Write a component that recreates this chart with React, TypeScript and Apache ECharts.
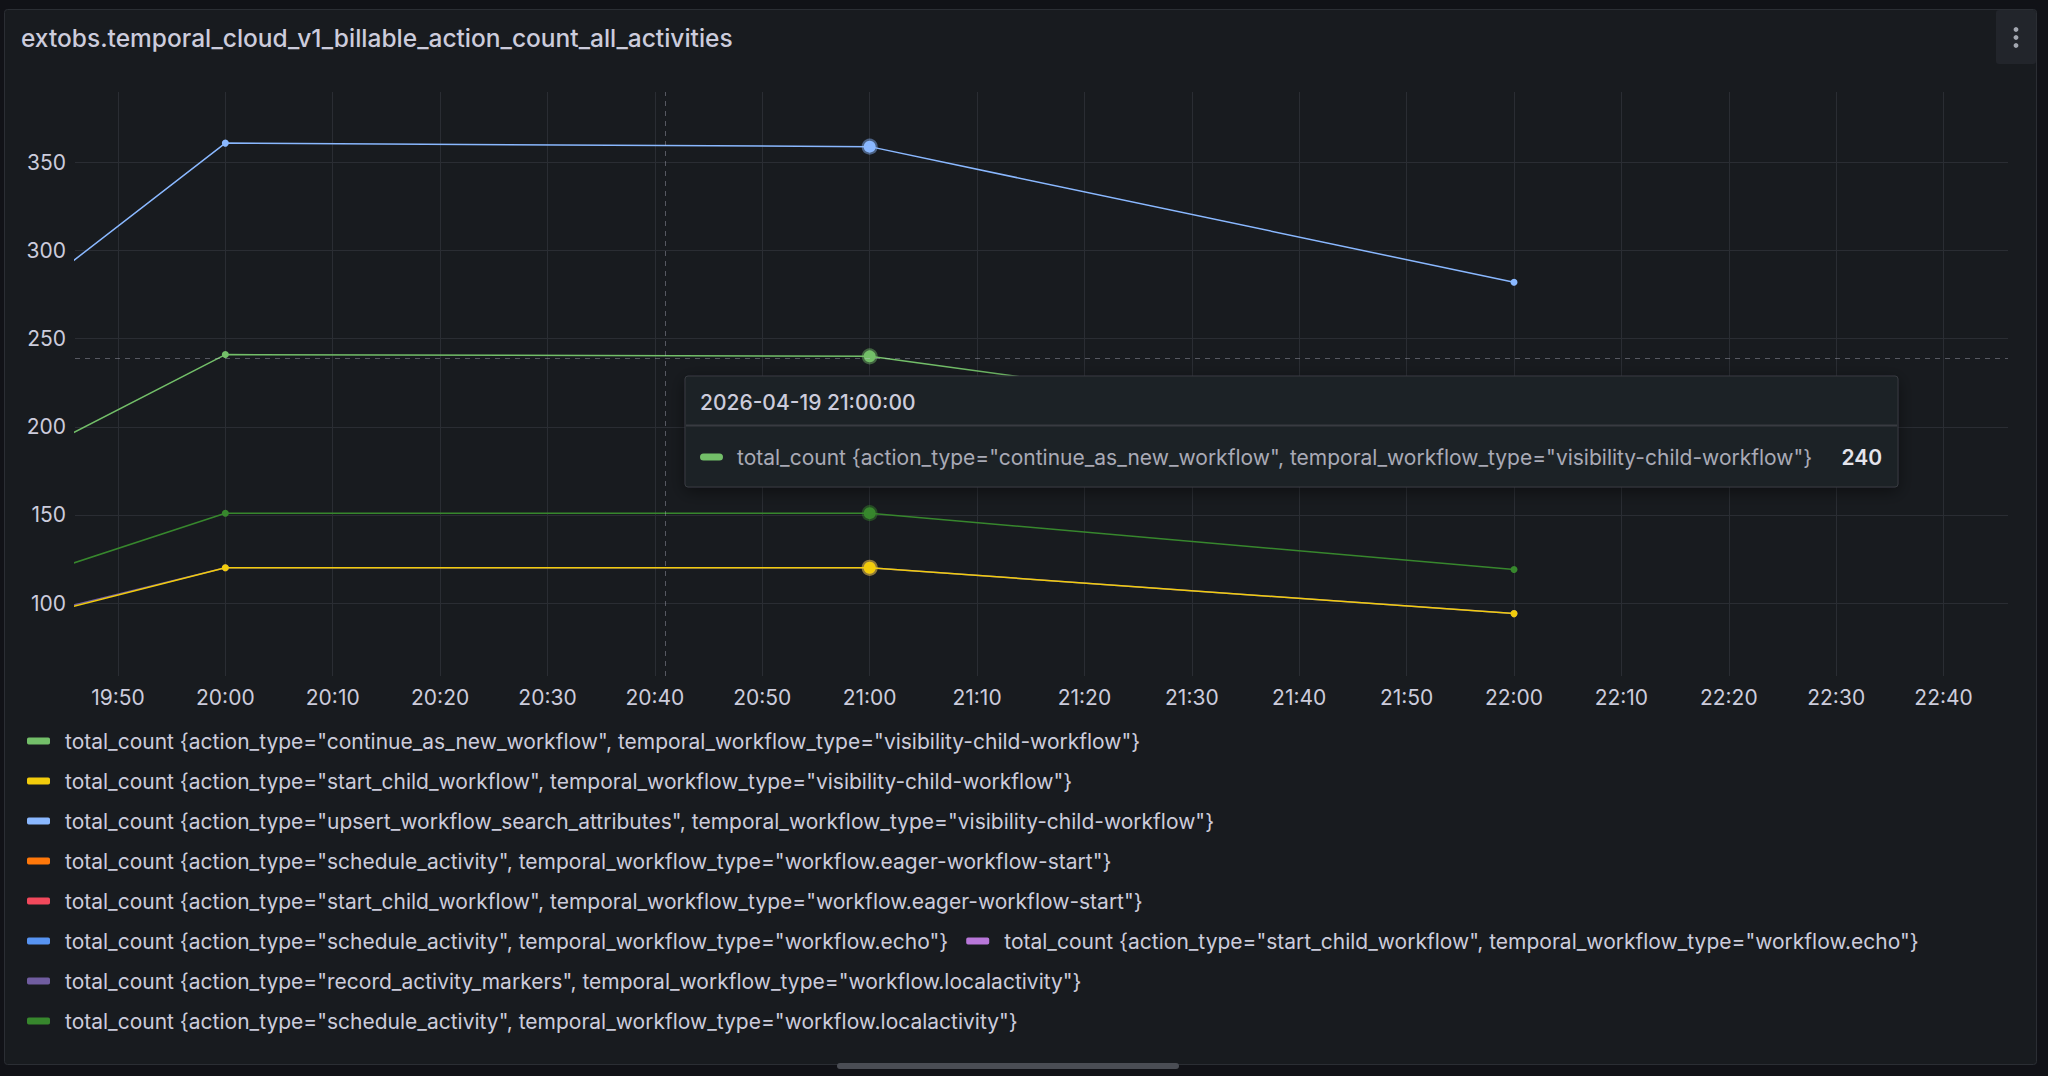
import React, { useEffect, useRef } from "react";
import * as echarts from "echarts";

// ---------- data ----------
const DAY = "2026-04-19";
const hourPoints = [19, 20, 21, 22]; // hourly buckets (UTC)
const axisStartMinutes = 19 * 60 + 46;
const axisEndMinutes = 22 * 60 + 46;
const hoverTimeMinutes = 20 * 60 + 41;
const hoverValue = 238.8;
const tooltipHour = 21;

const seriesNames = [
  'total_count {action_type="continue_as_new_workflow", temporal_workflow_type="visibility-child-workflow"}',
  'total_count {action_type="start_child_workflow", temporal_workflow_type="visibility-child-workflow"}',
  'total_count {action_type="upsert_workflow_search_attributes", temporal_workflow_type="visibility-child-workflow"}',
  'total_count {action_type="schedule_activity", temporal_workflow_type="workflow.eager-workflow-start"}',
  'total_count {action_type="start_child_workflow", temporal_workflow_type="workflow.eager-workflow-start"}',
  'total_count {action_type="schedule_activity", temporal_workflow_type="workflow.echo"}',
  'total_count {action_type="start_child_workflow", temporal_workflow_type="workflow.echo"}',
  'total_count {action_type="record_activity_markers", temporal_workflow_type="workflow.localactivity"}',
  'total_count {action_type="schedule_activity", temporal_workflow_type="workflow.localactivity"}',
];

const continueAsNewVis = [53, 241, 240, 190];
const startChildVis = [27, 120, 120, 94];
const upsertVis = [78, 361, 359, 282];
const scheduleEager: number[] = [];
const startChildEager: number[] = [];
const scheduleEcho: number[] = [];
const startChildEcho: number[] = [];
const recordMarkersLocal = [30, 120, 120, 94];
const scheduleLocal = [31, 151, 151, 119];

const seriesValues = [
  continueAsNewVis,
  startChildVis,
  upsertVis,
  scheduleEager,
  startChildEager,
  scheduleEcho,
  startChildEcho,
  recordMarkersLocal,
  scheduleLocal,
];

const palette = [
  "#73BF69",
  "#F2CC0C",
  "#8AB8FF",
  "#FF780A",
  "#F2495C",
  "#5794F2",
  "#B877D9",
  "#705DA0",
  "#37872D",
];

// drawing order (later = on top)
const drawOrder = [7, 8, 0, 2, 1, 3, 4, 5, 6];

const TITLE = "extobs.temporal_cloud_v1_billable_action_count_all_activities";
const Y_MIN = 58.6;
const Y_MAX = 390;

// ---------- helpers ----------
const FONT = "Inter, 'Noto Sans', sans-serif";
const pad = (n: number) => (n < 10 ? "0" + n : "" + n);
const fmtMinutes = (m: number) => {
  const mm = Math.round(m);
  return pad(Math.floor(mm / 60) % 24) + ":" + pad(mm % 60);
};

function hexA(hex: string, a: number) {
  const r = parseInt(hex.slice(1, 3), 16);
  const g = parseInt(hex.slice(3, 5), 16);
  const b = parseInt(hex.slice(5, 7), 16);
  return `rgba(${r},${g},${b},${a})`;
}

export default function App() {
  const ref = useRef<HTMLDivElement>(null);

  useEffect(() => {
    if (!ref.current) return;
    const chart = echarts.init(ref.current, undefined, { renderer: "svg" });

    const tipIdx = 0;
    const tipPos = hourPoints.indexOf(tooltipHour);
    const tipValue = seriesValues[tipIdx][tipPos];

    const series: any[] = drawOrder.map((i, k) => {
      const color = palette[i];
      const data = seriesValues[i].map((v, j) => {
        const t = hourPoints[j] * 60;
        if (hourPoints[j] === tooltipHour) {
          return {
            value: [t, v],
            symbolSize: 12,
            itemStyle: { color, borderColor: hexA(color, 0.45), borderWidth: 4 },
          };
        }
        return { value: [t, v] };
      });
      const s: any = {
        name: seriesNames[i],
        type: "line",
        data,
        color,
        z: 2 + k * 0.01,
        showSymbol: true,
        symbol: "circle",
        symbolSize: 7,
        lineStyle: { width: 1.5, color },
        itemStyle: { color },
        clip: true,
        silent: true,
      };
      if (k === 0) {
        s.markLine = {
          silent: true,
          symbol: ["none", "none"],
          label: { show: false },
          lineStyle: { type: [5, 5], color: "rgba(204,204,220,0.35)", width: 1 },
          data: [{ xAxis: hoverTimeMinutes }, { yAxis: hoverValue }],
        };
      }
      return s;
    });

    const tipLeft = 685;
    const tipTop = 376;
    const tipW = 1213;
    const tipH = 111;
    const TZ = 200;

    const option: any = {
      animation: false,
      backgroundColor: "#111217",
      textStyle: { fontFamily: FONT },
      grid: { left: 75, right: 40, top: 92, bottom: 400, containLabel: false },
      xAxis: {
        type: "value",
        min: axisStartMinutes,
        max: axisEndMinutes,
        splitNumber: 18,
        axisLine: { show: false },
        axisTick: { show: false },
        axisLabel: {
          color: "#CCCCDC",
          fontSize: 21,
          fontFamily: FONT,
          margin: 11,
          showMinLabel: false,
          showMaxLabel: false,
          formatter: (v: number) => fmtMinutes(v),
        },
        splitLine: {
          show: true,
          showMinLine: false,
          showMaxLine: false,
          lineStyle: { color: "#2a2d33", width: 1 },
        },
      },
      yAxis: {
        type: "value",
        min: Y_MIN,
        max: Y_MAX,
        splitNumber: 5,
        axisLine: { show: false },
        axisTick: { show: false },
        axisLabel: {
          color: "#CCCCDC",
          fontSize: 21,
          fontFamily: FONT,
          margin: 9,
          showMinLabel: false,
          showMaxLabel: false,
        },
        splitLine: {
          show: true,
          showMinLine: false,
          showMaxLine: false,
          lineStyle: { color: "#2a2d33", width: 1 },
        },
      },
      legend: {
        show: true,
        data: seriesNames,
        left: 27,
        top: 730,
        width: 1960,
        padding: 0,
        orient: "horizontal",
        align: "left",
        itemWidth: 23,
        itemHeight: 7,
        itemGap: 18,
        icon: "roundRect",
        selectedMode: false,
        textStyle: {
          color: "#CCCCDC",
          fontSize: 21,
          fontFamily: FONT,
          lineHeight: 22,
          padding: [0, 0, 0, 10],
        },
      },
      series,
      graphic: [
        {
          type: "rect",
          z: -10,
          silent: true,
          shape: { x: 4.5, y: 9.5, width: 2032, height: 1055, r: 3 },
          style: { fill: "#181B1F", stroke: "#2b2e34", lineWidth: 1 },
        },
        {
          type: "text",
          silent: true,
          left: 21,
          top: 25,
          style: {
            text: TITLE,
            fill: "#CCCCDC",
            font: `500 24.5px ${FONT}`,
          },
        },
        {
          type: "rect",
          silent: true,
          shape: { x: 1996, y: 10, width: 40, height: 54, r: 3 },
          style: { fill: "#22252b" },
        },
        { type: "circle", silent: true, shape: { cx: 2016, cy: 29.5, r: 2.4 }, style: { fill: "#a3a7b0" } },
        { type: "circle", silent: true, shape: { cx: 2016, cy: 37.5, r: 2.4 }, style: { fill: "#a3a7b0" } },
        { type: "circle", silent: true, shape: { cx: 2016, cy: 45.5, r: 2.4 }, style: { fill: "#a3a7b0" } },
        {
          type: "rect",
          silent: true,
          shape: { x: 837, y: 1063, width: 342, height: 6, r: 3 },
          style: { fill: "#4a4d54" },
        },
        // tooltip overlay
        {
          type: "rect",
          silent: true,
          z: TZ,
          shape: { x: tipLeft, y: tipTop, width: tipW, height: tipH, r: 3 },
          style: {
            fill: "#1d2025",
            stroke: "#383b41",
            lineWidth: 1,
            shadowBlur: 16,
            shadowColor: "rgba(0,0,0,0.45)",
            shadowOffsetY: 4,
          },
        },
        {
          type: "line",
          silent: true,
          z: TZ + 1,
          shape: { x1: tipLeft + 1, y1: 425.5, x2: tipLeft + tipW - 1, y2: 425.5 },
          style: { stroke: "#383b41", lineWidth: 2 },
        },
        {
          type: "text",
          silent: true,
          z: TZ + 1,
          x: 700,
          y: 402,
          style: {
            text: `${DAY} ${pad(tooltipHour)}:00:00`,
            fill: "#CCCCDC",
            font: `500 21px ${FONT}`,
            verticalAlign: "middle",
          },
        },
        {
          type: "rect",
          silent: true,
          z: TZ + 1,
          shape: { x: 700, y: 453.5, width: 23, height: 7, r: 3.5 },
          style: { fill: palette[tipIdx] },
        },
        {
          type: "text",
          silent: true,
          z: TZ + 1,
          x: 737,
          y: 457.5,
          style: {
            text: seriesNames[tipIdx],
            fill: "#a9aab6",
            font: `21px ${FONT}`,
            verticalAlign: "middle",
          },
        },
        {
          type: "text",
          silent: true,
          z: TZ + 1,
          x: 1882,
          y: 457.5,
          style: {
            text: String(tipValue),
            fill: "#e4e4ec",
            font: `600 21px ${FONT}`,
            align: "right",
            verticalAlign: "middle",
          },
        },
      ],
    };

    chart.setOption(option);
    return () => chart.dispose();
  }, []);

  return (
    <div
      ref={ref}
      style={{ width: 2048, height: 1076, position: "fixed", left: 0, top: 0, background: "#111217" }}
    />
  );
}
